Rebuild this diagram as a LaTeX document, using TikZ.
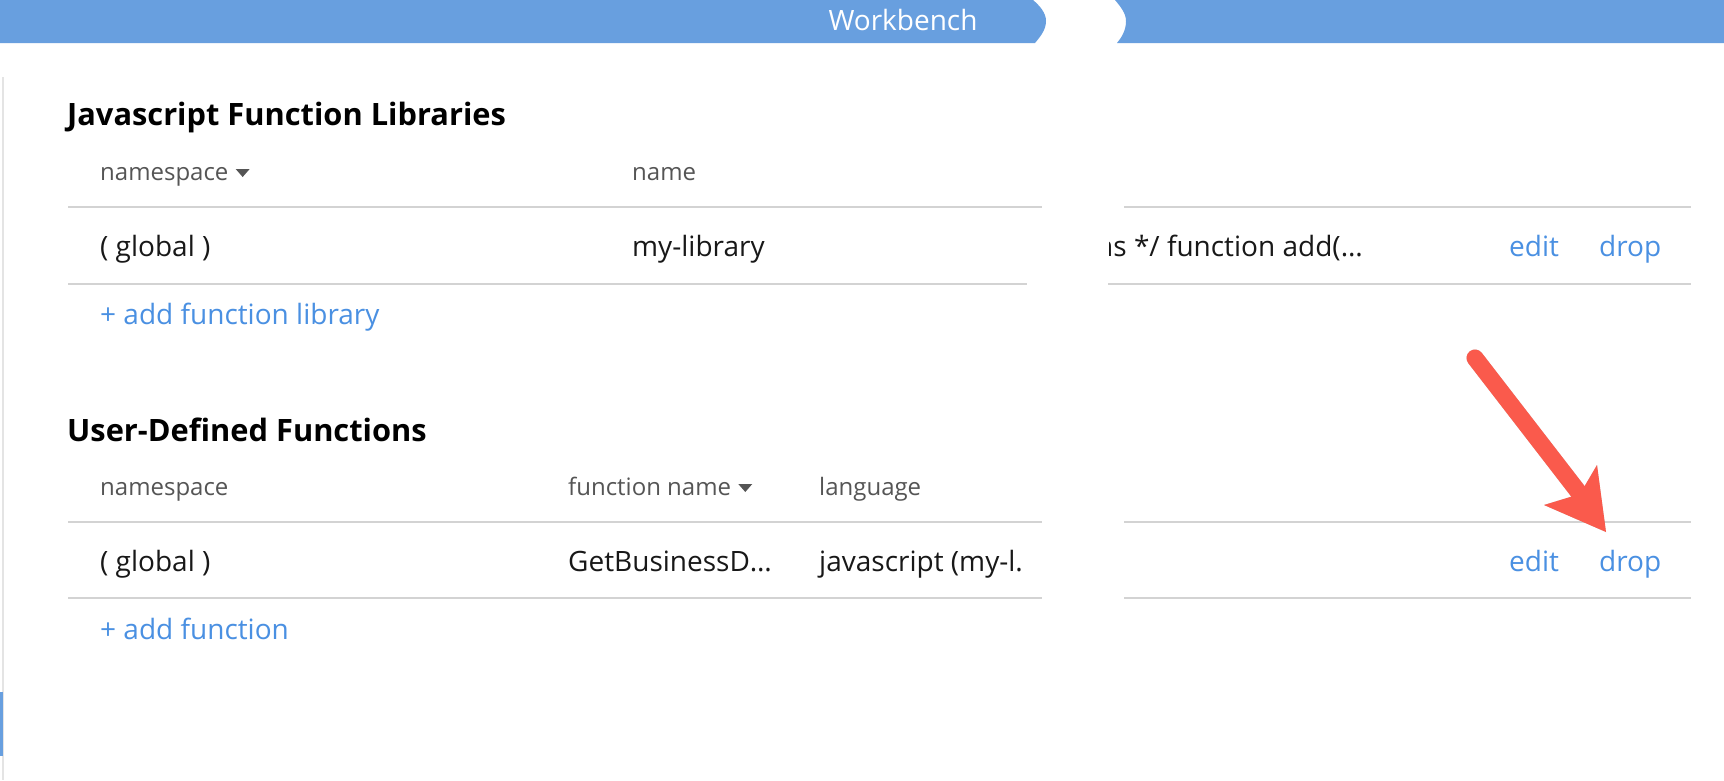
\documentclass[tikz,border=0pt]{standalone}
\usepackage{fontspec}
\setmainfont{Open Sans}
\usetikzlibrary{calc}
\definecolor{bannerblue}{RGB}{104,159,223}
\definecolor{linkblue}{RGB}{74,144,226}
\definecolor{hdrgray}{RGB}{85,85,85}
\definecolor{bodyblack}{RGB}{24,24,24}
\definecolor{linegray}{RGB}{211,211,211}
\definecolor{edgegray}{RGB}{228,228,228}
\definecolor{arrowred}{RGB}{250,90,76}
\begin{document}
\begin{tikzpicture}[x=1pt,y=-1pt,
  txt/.style={anchor=base west, inner sep=0pt, font=\fontsize{28}{34}\selectfont, text=bodyblack},
  hdr/.style={anchor=base west, inner sep=0pt, font=\fontsize{24}{29}\selectfont, text=hdrgray},
  heading/.style={anchor=base west, inner sep=0pt, font=\fontsize{30.8}{36}\selectfont\bfseries, text=black},
  link/.style={txt, text=linkblue},
  rowline/.style={draw=linegray, line width=2pt},
  sorttri/.style={fill=hdrgray}]
\useasboundingbox (0,0) rectangle (1724,780);
\fill[white] (0,0) rectangle (1724,780);

% banner
\fill[bannerblue] (0,0) -- (1033,0) .. controls (1040,6) and (1046,13) .. (1046,21)
  .. controls (1046,30) and (1040,37) .. (1035,43) -- (0,43) -- cycle;
\fill[bannerblue] (1115,0) -- (1724,0) -- (1724,43) -- (1117,43)
  .. controls (1122,37) and (1126,30) .. (1126,21)
  .. controls (1126,13) and (1120,6) .. (1115,0) -- cycle;
\node[anchor=base, inner sep=0pt, font=\fontsize{28}{34}\selectfont, text=white] (wb) at (903,30) {Workbench};

% left edge
\draw[edgegray, line width=2pt] (3,77) -- (3,780);
\fill[bannerblue] (0,692) rectangle (2.5,756);

% section 1
\node[heading] (h1) at (67,125) {Javascript Function Libraries};
\node[hdr] (ns1) at (100,180) {namespace};
\fill[sorttri] ($(ns1.base east)+(7,-11)$) -- ++(14,0) -- ++(-7,8) -- cycle;
\node[hdr] (nm1) at (632,180) {name};
\draw[rowline] (68,207) -- (1042,207);
\draw[rowline] (1124,207) -- (1691,207);
\node[txt] (g1) at (100,256) {( global )};
\node[txt] (lib1) at (632,256) {my-library};
\begin{scope}
  \clip (1109.5,215) rectangle (1420,280);
  \node[txt] (code1) at (1096,256) {ns */ function add(…};
\end{scope}
\node[link] (edit1) at (1509,256) {edit};
\node[link] (drop1) at (1599,256) {drop};
\draw[rowline] (68,284) -- (1027,284);
\draw[rowline] (1108,284) -- (1691,284);
\node[link] (addlib) at (100,324) {+ add function library};

% section 2
\node[heading] (h2) at (67,441) {User-Defined Functions};
\node[hdr] (ns2) at (100,495) {namespace};
\node[hdr] (fn2) at (568,495) {function name};
\fill[sorttri] ($(fn2.base east)+(7,-11)$) -- ++(14,0) -- ++(-7,8) -- cycle;
\node[hdr] (lang2) at (819,495) {language};
\draw[rowline] (68,522) -- (1042,522);
\draw[rowline] (1124,522) -- (1691,522);
\node[txt] (g2) at (100,571) {( global )};
\node[txt] (fname2) at (568,571) {GetBusinessD…};
\node[txt] (lang2v) at (819,571) {javascript (my-l.};
\node[link] (edit2) at (1509,571) {edit};
\node[link] (drop2) at (1599,571) {drop};
\draw[rowline] (68,598) -- (1042,598);
\draw[rowline] (1124,598) -- (1691,598);
\node[link] (addfn) at (100,639) {+ add function};

% red pointer arrow
\coordinate (atail) at (1475,358);
\coordinate (anotch) at (1580,494);
\coordinate (abarbL) at (1544,505);
\coordinate (atip) at (1606,532);
\coordinate (abarbR) at (1597,465);
\begin{scope}[shift={(2,3)}, opacity=0.2]
  \draw[black, line width=17pt, line cap=round] (atail) -- (anotch);
  \fill[black] (abarbL) -- (atip) -- (abarbR) -- (anotch) -- cycle;
\end{scope}
\draw[arrowred, line width=17pt, line cap=round] (atail) -- (anotch);
\fill[arrowred] (abarbL) -- (atip) -- (abarbR) -- (anotch) -- cycle;
\end{tikzpicture}
\end{document}
